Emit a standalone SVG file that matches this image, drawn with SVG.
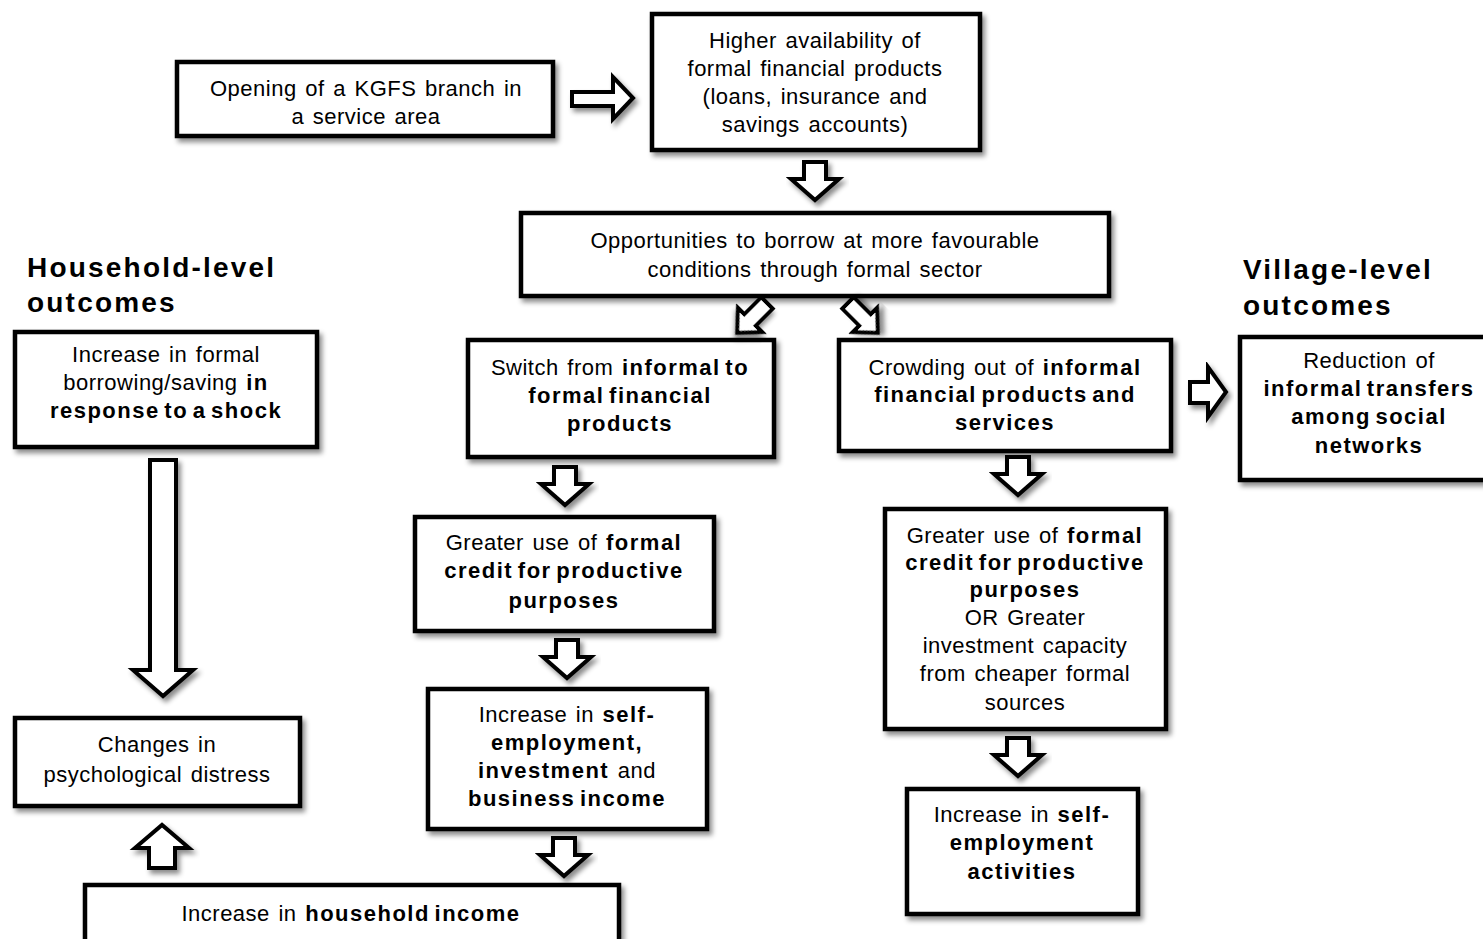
<svg xmlns="http://www.w3.org/2000/svg" xmlns:xlink="http://www.w3.org/1999/xlink" width="1483" height="939" viewBox="0 0 1483 939">
<defs>
<filter id="sh" x="-10%" y="-10%" width="130%" height="140%">
<feDropShadow dx="3" dy="4" stdDeviation="2.5" flood-color="#000" flood-opacity="0.45"/>
</filter>
<path id="arrDown" d="M-11,0 H11 V17 H24 L0,38 L-24,17 H-11 Z"/>
<path id="arrDiag" d="M-8,0 H8 V24 H17 L0,42 L-17,24 H-8 Z"/>
</defs>
<style>
.box{fill:#fff;stroke:#000;stroke-width:4.5;filter:url(#sh)}
.arr{fill:#fff;stroke:#000;stroke-width:4;stroke-linejoin:miter;filter:url(#sh)}
text{font-family:"Liberation Sans",Arial,sans-serif;font-size:22px;fill:#000;text-anchor:middle;letter-spacing:0.5px;word-spacing:2px}
.b{font-weight:bold;letter-spacing:1.5px;word-spacing:-3px}
.title{font-weight:bold;font-size:28px;text-anchor:start;letter-spacing:2.2px;word-spacing:0}
</style>
<rect width="1483" height="939" fill="#fff"/>

<g id="title-household">
<text class="title" x="27" y="277">Household-level</text>
<text class="title" x="27" y="312">outcomes</text>
</g>
<g id="title-village">
<text class="title" x="1243" y="279">Village-level</text>
<text class="title" x="1243" y="315">outcomes</text>
</g>

<g id="n-opening">
<rect class="box" x="177" y="62" width="376" height="74"/>
<text x="366" y="96">Opening  of a KGFS  branch  in</text>
<text x="366" y="124">a service area</text>
</g>

<g id="n-higher">
<rect class="box" x="652" y="14" width="328" height="136"/>
<text x="815" y="48">Higher  availability  of</text>
<text x="815" y="76">formal financial products</text>
<text x="815" y="104">(loans, insurance and</text>
<text x="815" y="132">savings accounts)</text>
</g>

<g id="n-opportunities">
<rect class="box" x="521" y="213" width="588" height="83"/>
<text x="815" y="248">Opportunities  to borrow at more favourable</text>
<text x="815" y="277">conditions  through formal sector</text>
</g>

<g id="n-switch">
<rect class="box" x="468" y="340" width="306" height="117"/>
<text x="620" y="375">Switch from <tspan class="b">informal to</tspan></text>
<text x="620" y="403"><tspan class="b">formal financial</tspan></text>
<text x="620" y="431"><tspan class="b">products</tspan></text>
</g>

<g id="n-crowding">
<rect class="box" x="839" y="340" width="332" height="111"/>
<text x="1005" y="375">Crowding out of <tspan class="b">informal</tspan></text>
<text x="1005" y="402"><tspan class="b">financial products and</tspan></text>
<text x="1005" y="430"><tspan class="b">services</tspan></text>
</g>

<g id="n-reduction">
<rect class="box" x="1240" y="337" width="262" height="143"/>
<text x="1369" y="368">Reduction  of</text>
<text x="1369" y="396"><tspan class="b">informal transfers</tspan></text>
<text x="1369" y="424"><tspan class="b">among social</tspan></text>
<text x="1369" y="453"><tspan class="b">networks</tspan></text>
</g>

<g id="n-borrowing">
<rect class="box" x="15" y="332" width="302" height="115"/>
<text x="166" y="362">Increase in formal</text>
<text x="166" y="390">borrowing/saving <tspan class="b">in</tspan></text>
<text x="166" y="418"><tspan class="b">response to a shock</tspan></text>
</g>

<g id="n-distress">
<rect class="box" x="15" y="718" width="285" height="88"/>
<text x="157" y="752">Changes  in</text>
<text x="157" y="782">psychological  distress</text>
</g>

<g id="n-greater-left">
<rect class="box" x="415" y="517" width="299" height="114"/>
<text x="564" y="550">Greater use of <tspan class="b">formal</tspan></text>
<text x="564" y="578"><tspan class="b">credit for productive</tspan></text>
<text x="564" y="608"><tspan class="b">purposes</tspan></text>
</g>

<g id="n-selfemp-left">
<rect class="box" x="428" y="689" width="279" height="140"/>
<text x="567" y="722">Increase in <tspan class="b">self-</tspan></text>
<text x="567" y="750"><tspan class="b">employment,</tspan></text>
<text x="567" y="778"><tspan class="b">investment</tspan> and</text>
<text x="567" y="806"><tspan class="b">business income</tspan></text>
</g>

<g id="n-greater-right">
<rect class="box" x="885" y="509" width="281" height="220"/>
<text x="1025" y="543">Greater use of <tspan class="b">formal</tspan></text>
<text x="1025" y="570"><tspan class="b">credit for productive</tspan></text>
<text x="1025" y="597"><tspan class="b">purposes</tspan></text>
<text x="1025" y="625">OR Greater</text>
<text x="1025" y="653">investment  capacity</text>
<text x="1025" y="681">from cheaper formal</text>
<text x="1025" y="710">sources</text>
</g>

<g id="n-selfemp-right">
<rect class="box" x="907" y="789" width="231" height="125"/>
<text x="1022" y="822">Increase in <tspan class="b">self-</tspan></text>
<text x="1022" y="850"><tspan class="b">employment</tspan></text>
<text x="1022" y="879"><tspan class="b">activities</tspan></text>
</g>

<g id="n-household-income">
<rect class="box" x="85" y="885" width="534" height="80"/>
<text x="351" y="921">Increase in <tspan class="b">household income</tspan></text>
</g>

<g id="connectors">
<path class="arr" d="M572,92 H613 V77 L633,98 L613,119 V106 H572 Z"/>
<use xlink:href="#arrDown" class="arr" transform="translate(815,162)"/>
<use xlink:href="#arrDiag" class="arr" transform="translate(767,303) rotate(45)"/>
<use xlink:href="#arrDiag" class="arr" transform="translate(848,303) rotate(-45)"/>
<path class="arr" d="M1190,382 H1208 V367 L1226,392 L1208,417 V403 H1190 Z"/>
<use xlink:href="#arrDown" class="arr" transform="translate(565,467)"/>
<use xlink:href="#arrDown" class="arr" transform="translate(567,640)"/>
<use xlink:href="#arrDown" class="arr" transform="translate(564,838)"/>
<use xlink:href="#arrDown" class="arr" transform="translate(1018,457)"/>
<use xlink:href="#arrDown" class="arr" transform="translate(1018,738)"/>
<path class="arr" d="M150,460 H176 V670 H193 L163,696 L133,670 H150 Z"/>
<path class="arr" d="M149,868 H175 V848 H189 L162,825 L135,848 H149 Z"/>
</g>
</svg>
